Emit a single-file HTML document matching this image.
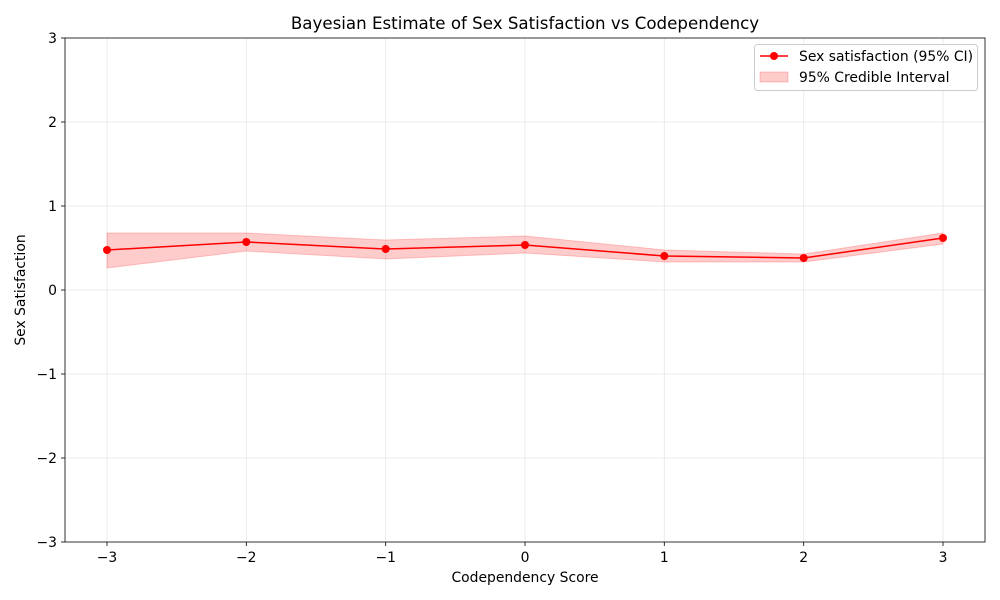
<!DOCTYPE html>
<html><head><meta charset="utf-8"><style>
body{margin:0;background:#fff}
svg{display:block;font-family:"DejaVu Sans","Liberation Sans",sans-serif}
</style></head><body>
<svg width="1000" height="600" viewBox="0 0 1000 600">
<rect width="1000" height="600" fill="#fff"/>
<g stroke="#e6e6e6" stroke-width="0.8">
<line x1="107" y1="38" x2="107" y2="542"/><line x1="246.3" y1="38" x2="246.3" y2="542"/>
<line x1="385.7" y1="38" x2="385.7" y2="542"/><line x1="525" y1="38" x2="525" y2="542"/>
<line x1="664.3" y1="38" x2="664.3" y2="542"/><line x1="803.7" y1="38" x2="803.7" y2="542"/>
<line x1="943" y1="38" x2="943" y2="542"/>
<line x1="65" y1="122" x2="985" y2="122"/><line x1="65" y1="206" x2="985" y2="206"/>
<line x1="65" y1="290" x2="985" y2="290"/><line x1="65" y1="374" x2="985" y2="374"/>
<line x1="65" y1="458" x2="985" y2="458"/>
</g>
<polygon points="107,233 246.3,233 385.7,240 525,236 664.3,250 803.7,254 943,233 943,244 803.7,262 664.3,262 525,253 385.7,259 246.3,251 107,268" fill="#ff0000" fill-opacity="0.2" stroke="#ff0000" stroke-opacity="0.2"/>
<polyline points="107,250 246.3,242 385.7,249 525,245 664.3,256 803.7,258 943,238" fill="none" stroke="#ff0000" stroke-width="1.5"/>
<g fill="#ff0000">
<circle cx="107" cy="250" r="4"/><circle cx="246.3" cy="242" r="4"/><circle cx="385.7" cy="249" r="4"/>
<circle cx="525" cy="245" r="4"/><circle cx="664.3" cy="256" r="4"/><circle cx="803.7" cy="258" r="4"/><circle cx="943" cy="238" r="4"/>
</g>
<rect x="65" y="38" width="920" height="504" fill="none" stroke="#000" stroke-width="0.8"/>
<g stroke="#000" stroke-width="0.8">
<line x1="107" y1="542" x2="107" y2="546"/><line x1="246.3" y1="542" x2="246.3" y2="546"/>
<line x1="385.7" y1="542" x2="385.7" y2="546"/><line x1="525" y1="542" x2="525" y2="546"/>
<line x1="664.3" y1="542" x2="664.3" y2="546"/><line x1="803.7" y1="542" x2="803.7" y2="546"/>
<line x1="943" y1="542" x2="943" y2="546"/>
<line x1="61" y1="38" x2="65" y2="38"/><line x1="61" y1="122" x2="65" y2="122"/><line x1="61" y1="206" x2="65" y2="206"/>
<line x1="61" y1="290" x2="65" y2="290"/><line x1="61" y1="374" x2="65" y2="374"/><line x1="61" y1="458" x2="65" y2="458"/><line x1="61" y1="542" x2="65" y2="542"/>
</g>
<g font-size="13.9" fill="#000" text-anchor="middle">
<text x="107" y="562">−3</text><text x="246.3" y="562">−2</text><text x="385.7" y="562">−1</text>
<text x="525" y="562">0</text><text x="664.3" y="562">1</text><text x="803.7" y="562">2</text><text x="943" y="562">3</text>
</g>
<g font-size="13.9" fill="#000" text-anchor="end">
<text x="57" y="43">3</text><text x="57" y="127">2</text><text x="57" y="211">1</text><text x="57" y="295">0</text>
<text x="57" y="379">−1</text><text x="57" y="463">−2</text><text x="57" y="547">−3</text>
</g>
<text x="525" y="582" font-size="13.9" text-anchor="middle">Codependency Score</text>
<text x="25" y="290" font-size="13.9" text-anchor="middle" transform="rotate(-90 25 290)">Sex Satisfaction</text>
<text x="525" y="29" font-size="16.67" text-anchor="middle">Bayesian Estimate of Sex Satisfaction vs Codependency</text>
<rect x="754.5" y="44.5" width="223" height="46" rx="3" fill="#fff" stroke="#ccc"/>
<line x1="760" y1="56" x2="788" y2="56" stroke="#ff0000" stroke-width="1.5"/>
<circle cx="774" cy="56" r="4" fill="#ff0000"/>
<rect x="760" y="72" width="28" height="10" fill="#ff0000" fill-opacity="0.2" stroke="#ff0000" stroke-opacity="0.2"/>
<text x="799" y="61" font-size="13.9">Sex satisfaction (95% CI)</text>
<text x="799" y="82" font-size="13.9">95% Credible Interval</text>
</svg>
</body></html>
